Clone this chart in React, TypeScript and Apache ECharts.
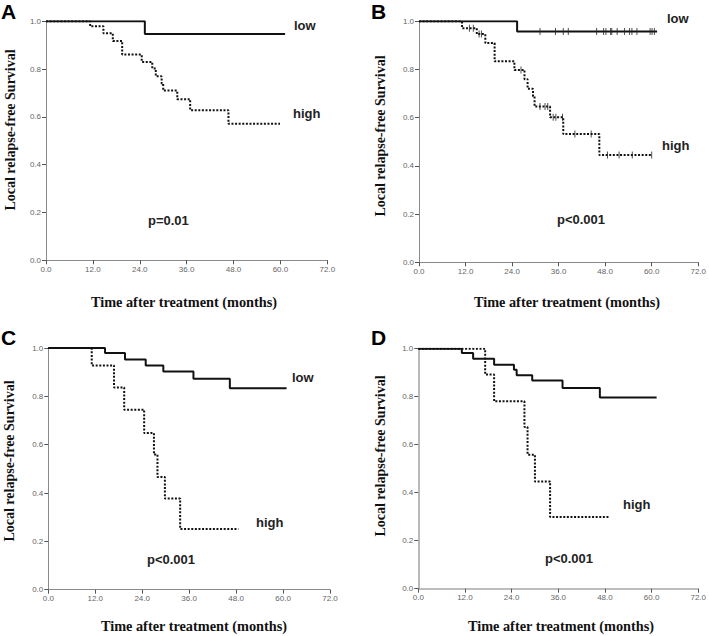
import React, { useEffect, useRef } from "react";
import * as echarts from "echarts";

// ---- Data (months, survival) ----
const xTicks = [0, 12, 24, 36, 48, 60, 72];
const yTicks = [0, 0.2, 0.4, 0.6, 0.8, 1.0];

// Panel A
const aLowT = [0, 25.3, 61.2];
const aLowS = [1, 0.947, 0.947];
const aHighT = [0, 11.3, 14.7, 17.1, 19.5, 24.5, 27.2, 28.1, 29.6, 30.0, 33.6, 36.9, 46.7, 59.9];
const aHighS = [1, 0.979, 0.95, 0.918, 0.861, 0.83, 0.803, 0.77, 0.74, 0.71, 0.674, 0.628, 0.571, 0.571];

// Panel B
const bLowT = [0, 25.3, 61.4];
const bLowS = [1, 0.958, 0.958];
const bLowCensorT = [31.2, 35.2, 37.2, 38.5, 45.8, 47.6, 48.2, 49.4, 49.7, 51.1, 53.0, 54.3, 54.9, 56.2, 59.6, 60.1, 60.7];
const bLowCensorS = bLowCensorT.map(() => 0.958);
const bHighT = [0, 11.1, 14.9, 17.1, 19.5, 24.6, 27.2, 28.0, 29.4, 29.8, 33.8, 37.2, 46.5, 60.0];
const bHighS = [1, 0.971, 0.947, 0.91, 0.834, 0.798, 0.76, 0.72, 0.689, 0.646, 0.602, 0.532, 0.445, 0.445];
const bHighCensorT = [13.0, 14.0, 15.5, 16.1, 26.3, 31.2, 32.5, 33.2, 34.6, 35.3, 37.0, 40.2, 44.4, 48.6, 51.6, 55.0, 60.0];
const bHighCensorS = [0.971, 0.971, 0.947, 0.947, 0.798, 0.646, 0.646, 0.646, 0.602, 0.602, 0.602, 0.532, 0.532, 0.445, 0.445, 0.445, 0.445];

// Panel C
const cLowT = [0, 14.5, 19.6, 24.9, 29.4, 37.1, 46.4, 60.9];
const cLowS = [1, 0.979, 0.952, 0.928, 0.903, 0.873, 0.833, 0.833];
const cHighT = [0, 11.1, 16.8, 19.4, 24.5, 27.0, 27.9, 29.8, 33.7, 48.6];
const cHighS = [1, 0.928, 0.837, 0.745, 0.648, 0.559, 0.466, 0.377, 0.251, 0.251];

// Panel D
const dLowT = [0, 11.2, 14.1, 19.5, 24.6, 25.3, 29.3, 37.1, 46.7, 61.3];
const dLowS = [1, 0.982, 0.958, 0.933, 0.9125, 0.889, 0.867, 0.836, 0.797, 0.797];
const dHighT = [0, 17.2, 19.5, 27.3, 28.1, 30.0, 33.9, 49.0];
const dHighS = [1, 0.892, 0.781, 0.674, 0.558, 0.447, 0.299, 0.299];

const panelLetters = ["A", "B", "C", "D"];
const pTexts = ["p=0.01", "p<0.001", "p<0.001", "p<0.001"];
const yTitle = "Local relapse-free Survival";
const xTitle = "Time after treatment (months)";

const zip = (t: number[], s: number[]) => t.map((v, i) => [v, s[i]]);

export default function App() {
  const ref = useRef<HTMLDivElement>(null);
  useEffect(() => {
    if (!ref.current) return;
    const chart = echarts.init(ref.current, null, { renderer: "svg" });

    const grids = [
      { left: 46, top: 21.3, width: 281.3, height: 239 },
      { left: 419, top: 21.3, width: 282.7, height: 241 },
      { left: 48.3, top: 348, width: 281.7, height: 241.7 },
      { left: 418.3, top: 348.7, width: 280, height: 240 },
    ];
    const axisColor = ["#8a8a8a", "#8a8a8a", "#8a8a8a", "#a8a8a8"];
    const axisWidth = [1, 1, 1, 1.6];

    const xAxes = grids.map((_, i) => ({
      type: "value",
      gridIndex: i,
      min: xTicks[0],
      max: xTicks[xTicks.length - 1],
      interval: 12,
      splitLine: { show: false },
      axisLine: { lineStyle: { color: axisColor[i], width: axisWidth[i] } },
      axisTick: { show: true, length: 4, lineStyle: { color: "#555" } },
      axisLabel: {
        margin: 5,
        fontSize: 8,
        color: "#666",
        fontFamily: "Liberation Sans, Arial, sans-serif",
        formatter: (v: number) => v.toFixed(1),
      },
    }));
    const yAxes = grids.map((_, i) => ({
      type: "value",
      gridIndex: i,
      min: yTicks[0],
      max: yTicks[yTicks.length - 1],
      interval: 0.2,
      splitLine: { show: false },
      axisLine: { show: true, lineStyle: { color: axisColor[i], width: axisWidth[i] } },
      axisTick: { show: true, length: 4, lineStyle: { color: "#555" } },
      axisLabel: {
        margin: 5,
        fontSize: 8,
        color: "#666",
        fontFamily: "Liberation Sans, Arial, sans-serif",
        formatter: (v: number) => v.toFixed(1),
      },
    }));

    const solid = (i: number, t: number[], s: number[]) => ({
      type: "line",
      xAxisIndex: i,
      yAxisIndex: i,
      step: "end",
      data: zip(t, s),
      symbol: "none",
      lineStyle: { color: "#111", width: 2, type: "solid" },
      z: 3,
    });
    const dotted = (i: number, t: number[], s: number[]) => ({
      type: "line",
      xAxisIndex: i,
      yAxisIndex: i,
      step: "end",
      data: zip(t, s),
      symbol: "none",
      lineStyle: { color: "#111", width: 2, type: [2, 1.6] },
      z: 2,
    });
    const censor = (i: number, t: number[], s: number[]) => ({
      type: "scatter",
      xAxisIndex: i,
      yAxisIndex: i,
      data: zip(t, s),
      symbol: "rect",
      symbolSize: [1, 7],
      itemStyle: { color: "#222" },
      z: 4,
    });

    const series = [
      solid(0, aLowT, aLowS),
      dotted(0, aHighT, aHighS),
      solid(1, bLowT, bLowS),
      dotted(1, bHighT, bHighS),
      censor(1, bLowCensorT, bLowCensorS),
      censor(1, bHighCensorT, bHighCensorS),
      solid(2, cLowT, cLowS),
      dotted(2, cHighT, cHighS),
      solid(3, dLowT, dLowS),
      dotted(3, dHighT, dHighS),
    ];

    const serif = "Liberation Serif, Times New Roman, serif";
    const sans = "Liberation Sans, Arial, sans-serif";
    const yTitlePos = [
      [10, 130],
      [380, 136],
      [9, 461],
      [380, 456],
    ];
    const xTitlePos = [
      [184, 302],
      [567, 302],
      [194, 626],
      [561, 626],
    ];
    const letterPos = [
      [1, 1],
      [371, 1],
      [1, 327],
      [371, 327],
    ];
    const pPos = [
      [148, 220],
      [557, 219],
      [147, 559],
      [545, 558],
    ];
    const curveLabels = [
      { t: "low", x: 294, y: 25 },
      { t: "high", x: 293, y: 113 },
      { t: "low", x: 667, y: 18 },
      { t: "high", x: 662, y: 145 },
      { t: "low", x: 292, y: 377 },
      { t: "high", x: 256, y: 522 },
      { t: "high", x: 623, y: 504 },
    ];

    const graphic: any[] = [];
    for (let i = 0; i < 4; i++) {
      graphic.push({
        type: "text",
        x: yTitlePos[i][0],
        y: yTitlePos[i][1],
        rotation: Math.PI / 2,
        style: {
          text: yTitle,
          font: `bold 14px ${serif}`,
          fill: "#111",
          textAlign: "center",
          textVerticalAlign: "middle",
        },
      });
      graphic.push({
        type: "text",
        x: xTitlePos[i][0],
        y: xTitlePos[i][1],
        style: {
          text: xTitle,
          font: `bold 14.3px ${serif}`,
          fill: "#111",
          textAlign: "center",
          textVerticalAlign: "middle",
        },
      });
      graphic.push({
        type: "text",
        x: letterPos[i][0],
        y: letterPos[i][1],
        style: {
          text: panelLetters[i],
          font: `bold 21px ${sans}`,
          fill: "#000",
          textAlign: "left",
          textVerticalAlign: "top",
        },
      });
      graphic.push({
        type: "text",
        x: pPos[i][0],
        y: pPos[i][1],
        style: {
          text: pTexts[i],
          font: `bold 13px ${sans}`,
          fill: "#222",
          textAlign: "left",
          textVerticalAlign: "middle",
        },
      });
    }
    curveLabels.forEach((l) =>
      graphic.push({
        type: "text",
        x: l.x,
        y: l.y,
        style: {
          text: l.t,
          font: `bold 13px ${sans}`,
          fill: "#222",
          textAlign: "left",
          textVerticalAlign: "middle",
        },
      })
    );

    chart.setOption({
      animation: false,
      backgroundColor: "#fff",
      grid: grids.map((g) => ({ ...g, containLabel: false })),
      xAxis: xAxes,
      yAxis: yAxes,
      series,
      graphic,
    } as any);

    return () => chart.dispose();
  }, []);

  return (
    <div
      ref={ref}
      style={{ position: "absolute", left: 0, top: 0, width: 709, height: 636 }}
    />
  );
}
